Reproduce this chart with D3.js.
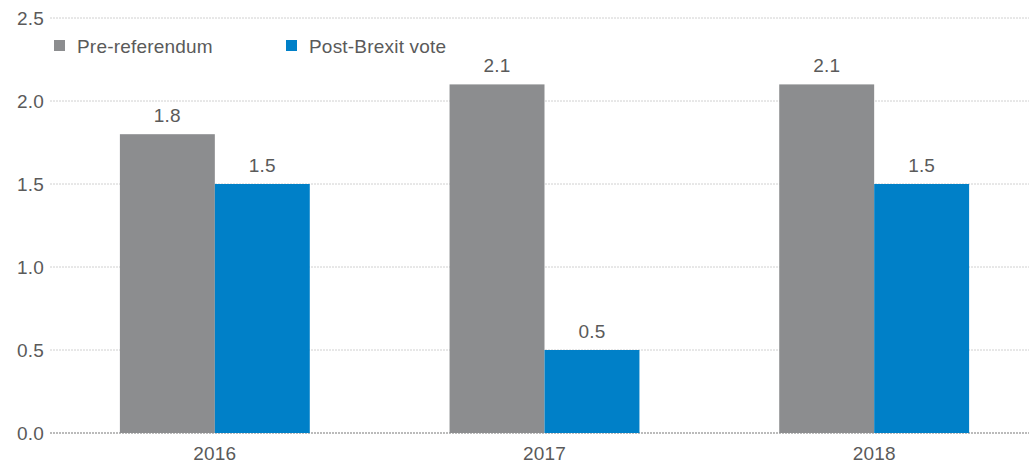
<!DOCTYPE html>
<html>
<head>
<meta charset="utf-8">
<script src="https://cdn.jsdelivr.net/npm/d3@7"></script>
<style>
  body { margin: 0; background: #fff; }
  svg text { font-family: "Liberation Sans", Arial, sans-serif; fill: #5a5a5a; letter-spacing: 0.2px; }
</style>
</head>
<body>
<svg id="chart" width="1029" height="463"></svg>
<script>
let years = ['2016', '2017', '2018']
let seriesNames = ['Pre-referendum', 'Post-Brexit vote']
let preReferendum = [1.8, 2.1, 2.1]
let postBrexit = [1.5, 0.5, 1.5]
let yTicks = [0, 0.5, 1.0, 1.5, 2.0, 2.5]
let colors = ['#8c8d8f', '#0080c8']

let svg = d3.select('#chart')

let x = d3.scaleBand()
  .domain(years)
  .range([50, 1039])
  .paddingInner(0.424)
  .paddingOuter(0.212)

let xSub = d3.scaleBand()
  .domain(seriesNames)
  .range([0, x.bandwidth()])

let y = d3.scaleLinear()
  .domain([0, 2.5])
  .range([433, 18])

// gridlines
svg.append('g')
  .selectAll('line')
  .data(yTicks)
  .enter()
  .append('line')
  .attr('x1', 50)
  .attr('x2', 1029)
  .attr('y1', d => y(d))
  .attr('y2', d => y(d))
  .attr('stroke', d => d === 0 ? '#bbb' : '#d0d0d0')
  .attr('stroke-width', d => d === 0 ? 2 : 1)
  .attr('stroke-dasharray', '2,1')

// y labels
svg.append('g')
  .selectAll('text')
  .data(yTicks)
  .enter()
  .append('text')
  .attr('x', 44)
  .attr('y', d => y(d))
  .attr('dy', '0.35em')
  .attr('text-anchor', 'end')
  .attr('font-size', 19)
  .text(d => d.toFixed(1))

let rows = years.map((yr, i) => ({
  year: yr,
  values: [
    { name: seriesNames[0], value: preReferendum[i] },
    { name: seriesNames[1], value: postBrexit[i] }
  ]
}))

let groups = svg.append('g')
  .selectAll('g')
  .data(rows)
  .enter()
  .append('g')
  .attr('transform', d => 'translate(' + x(d.year) + ',0)')

groups.selectAll('rect')
  .data(d => d.values)
  .enter()
  .append('rect')
  .attr('x', d => xSub(d.name))
  .attr('width', xSub.bandwidth())
  .attr('y', d => y(d.value))
  .attr('height', d => y(0) - y(d.value))
  .attr('fill', (d, i) => colors[i])

groups.selectAll('text')
  .data(d => d.values)
  .enter()
  .append('text')
  .attr('x', d => xSub(d.name) + xSub.bandwidth() / 2)
  .attr('y', d => y(d.value) - 12)
  .attr('text-anchor', 'middle')
  .attr('font-size', 19)
  .text(d => d.value.toFixed(1))

// x labels
svg.append('g')
  .selectAll('text')
  .data(years)
  .enter()
  .append('text')
  .attr('x', d => x(d) + x.bandwidth() / 2)
  .attr('y', 460)
  .attr('text-anchor', 'middle')
  .attr('font-size', 19)
  .text(d => d)

// legend
let legendX = [54, 286]
let legend = svg.append('g')
  .selectAll('g')
  .data(seriesNames)
  .enter()
  .append('g')
  .attr('transform', (d, i) => 'translate(' + legendX[i] + ',40)')

legend.append('rect')
  .attr('width', 11)
  .attr('height', 11)
  .attr('fill', (d, i) => colors[i])

legend.append('text')
  .attr('x', 23)
  .attr('y', 6)
  .attr('dy', '0.35em')
  .attr('font-size', 19)
  .text(d => d)
</script>
</body>
</html>
